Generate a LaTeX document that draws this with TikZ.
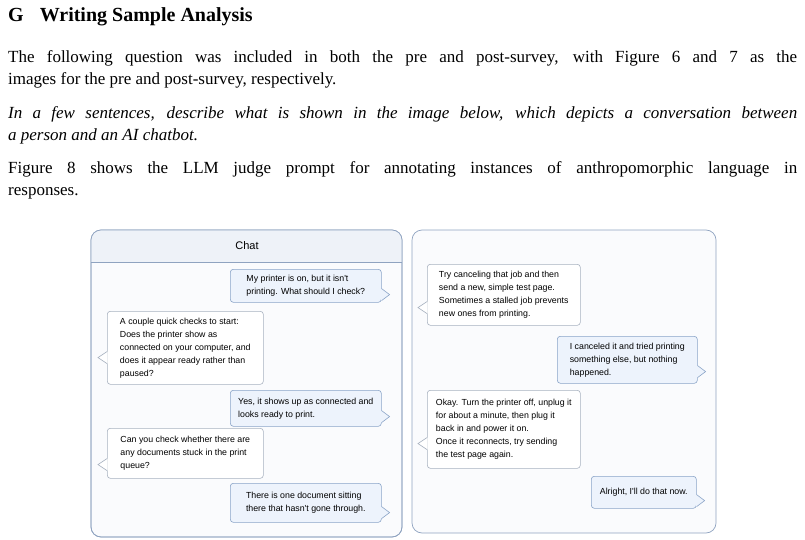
\documentclass[tikz,border=0pt]{standalone}
\usepackage{fontspec}
\setmainfont{Liberation Serif}
\newfontfamily\chatfont{Liberation Sans}
\usetikzlibrary{calc}

\definecolor{panelline}{HTML}{8FA3C0}
\definecolor{panelbg}{HTML}{FAFBFD}
\definecolor{headbg}{HTML}{EEF2F8}
\definecolor{userfill}{HTML}{EDF3FC}
\definecolor{userline}{HTML}{8AA4C8}
\definecolor{botline}{HTML}{A8B2C0}

\tikzset{
  bubble/.style={draw, rounded corners=3pt, anchor=north west, inner xsep=7pt,
    inner ysep=0pt, font=\chatfont\fontsize{8.8}{13}\selectfont, align=left,
    line width=0.6pt},
  user/.style={bubble, fill=userfill, draw=userline},
  bot/.style={bubble, fill=white, draw=botline},
  panel/.style={draw=panelline, fill=panelbg, rounded corners=10pt, line width=0.7pt},
  body/.style={anchor=north west, inner sep=0pt, text width=789pt, align=justify,
    font=\fontsize{17}{22}\selectfont}
}

% tail on the right or left side of a bubble, #2 = distance above bottom
\newcommand{\tailright}[3]{%
  \fill[#3] ($(#1.south east)+(-0.5,-#2+6)$) -- ($(#1.south east)+(8,-#2)$) -- ($(#1.south east)+(-0.5,-#2-6)$) -- cycle;
  \draw[userline, line width=0.6pt] ($(#1.south east)+(0,-#2+6)$) -- ($(#1.south east)+(8,-#2)$) -- ($(#1.south east)+(0,-#2-6)$);}
\newcommand{\tailleft}[2]{%
  \fill[white] ($(#1.south west)+(0.5,-#2+6)$) -- ($(#1.south west)+(-9,-#2)$) -- ($(#1.south west)+(0.5,-#2-6)$) -- cycle;
  \draw[botline, line width=0.6pt] ($(#1.south west)+(0,-#2+6)$) -- ($(#1.south west)+(-9,-#2)$) -- ($(#1.south west)+(0,-#2-6)$);}

\begin{document}
\begin{tikzpicture}[x=1pt, y=-1pt]
  \useasboundingbox (0,0) rectangle (805,540);

  % Section heading and text
  \node[anchor=west, inner sep=0pt, font=\fontsize{20}{22}\selectfont\bfseries] (head) at (8,17)
    {G\hspace{16pt}Writing Sample Analysis};
  \node[body] (para1) at (8,50) {The following question was included in both the pre and post-survey, with Figure 6 and 7 as the\linebreak images for the pre and post-survey, respectively.};
  \node[body] (para2) at (8,106) {\itshape In a few sentences, describe what is shown in the image below, which depicts a conversation between\linebreak a person and an AI chatbot.};
  \node[body] (para3) at (8,161) {Figure 8 shows the LLM judge prompt for annotating instances of anthropomorphic language in\linebreak responses.};

  % Left panel
  \draw[panel] (91,230) rectangle (402,537);
  \begin{scope}
    \clip[rounded corners=10pt] (91,230) rectangle (402,537);
    \fill[headbg] (91,230) rectangle (402,262);
  \end{scope}
  \draw[panel, fill=none] (91,230) rectangle (402,537);
  \draw[panelline, line width=0.6pt] (91,262) -- (402,262);
  \node[font=\chatfont\fontsize{11}{12}\selectfont] (title) at (247,246) {Chat};

  \node[user, minimum width=151pt, minimum height=33pt] (u1) at (230,269)
    {My printer is on, but it isn't\\printing. What should I check?};
  \node[bot, minimum width=156pt, minimum height=73pt] (b1) at (107,311)
    {A couple quick checks to start:\\Does the printer show as\\connected on your computer, and\\does it appear ready rather than\\paused?};
  \node[user, minimum width=151pt, minimum height=36pt] (u2) at (230,390)
    {Yes, it shows up as connected and\\looks ready to print.};
  \node[bot, minimum width=156pt, minimum height=50pt] (b2) at (107,428)
    {Can you check whether there are\\any documents stuck in the print\\queue?};
  \node[user, minimum width=151pt, minimum height=39pt] (u3) at (230,483)
    {There is one document sitting\\there that hasn't gone through.};

  % Right panel
  \draw[panel] (412,230) rectangle (716,533);
  \node[bot, minimum width=153pt, minimum height=61pt] (b3) at (427,264)
    {Try canceling that job and then\\send a new, simple test page.\\Sometimes a stalled job prevents\\new ones from printing.};
  \node[user, minimum width=140pt, minimum height=47pt] (u4) at (557,336)
    {I canceled it and tried printing\\something else, but nothing\\happened.};
  \node[bot, minimum width=153pt, minimum height=78pt] (b4) at (427,390)
    {Okay. Turn the printer off, unplug it\\for about a minute, then plug it\\back in and power it on.\\Once it reconnects, try sending\\the test page again.};
  \node[user, minimum width=105pt, minimum height=32pt] (u5) at (591,476)
    {Alright, I'll do that now.};

  % Tails
  \tailright{u1}{8}{userfill}
  \tailright{u2}{10}{userfill}
  \tailright{u3}{10}{userfill}
  \tailright{u4}{12}{userfill}
  \tailright{u5}{8}{userfill}
  \tailleft{b1}{27}
  \tailleft{b2}{14}
  \tailleft{b3}{18}
  \tailleft{b4}{25}
\end{tikzpicture}
\end{document}
